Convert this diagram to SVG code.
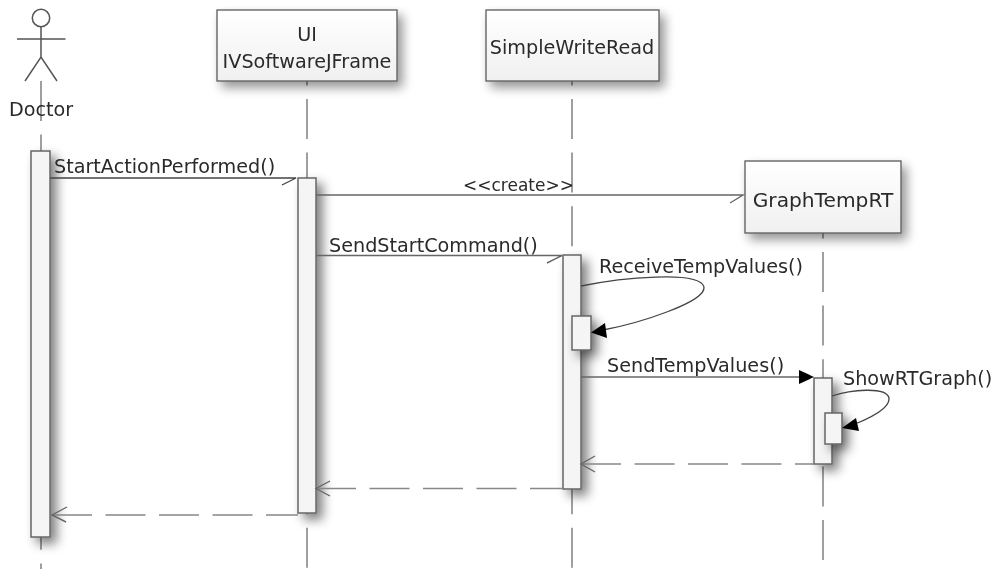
<svg xmlns="http://www.w3.org/2000/svg" width="993" height="569" viewBox="0 0 993 569">
<defs>
<linearGradient id="g" x1="0" y1="0" x2="0" y2="1"><stop offset="0" stop-color="#ffffff"/><stop offset="1" stop-color="#f0f0f0"/></linearGradient>
<filter id="s" filterUnits="userSpaceOnUse" x="0" y="0" width="993" height="569"><feGaussianBlur in="SourceAlpha" stdDeviation="5.500"/><feOffset dx="5" dy="6"/><feComponentTransfer><feFuncA type="linear" slope="0.42"/></feComponentTransfer><feMerge><feMergeNode/><feMergeNode in="SourceGraphic"/></feMerge></filter>
<filter id="sa" filterUnits="userSpaceOnUse" x="0" y="0" width="993" height="569"><feGaussianBlur in="SourceAlpha" stdDeviation="5.500"/><feOffset dx="6" dy="6"/><feComponentTransfer><feFuncA type="linear" slope="0.5"/></feComponentTransfer><feMerge><feMergeNode/><feMergeNode in="SourceGraphic"/></feMerge></filter>
<filter id="soft" filterUnits="userSpaceOnUse" x="0" y="0" width="993" height="569"><feGaussianBlur stdDeviation="0.45"/></filter>
</defs>
<style>
text{font-family:"DejaVu Sans","Liberation Sans",sans-serif;font-size:19.200px;fill:#2a2a2a}
.m{text-anchor:middle}
.box{fill:url(#g);stroke:#5a5a5a;stroke-width:1.3}
.act{fill:#f5f5f5;stroke:#666;stroke-width:1.5}
.life{stroke:#888;stroke-width:1.6;stroke-dasharray:40 13.6;fill:none}
.ln{stroke:#666;stroke-width:1.4;fill:none}
.dark{stroke:#444;stroke-width:1.3;fill:none}
.dash{stroke:#888;stroke-width:1.6;stroke-dasharray:40 13.5;fill:none}
.fig{stroke:#555;stroke-width:1.5;fill:none}
.head{fill:#000;stroke:none}
</style>
<rect width="993" height="569" fill="#fff"/>
<g filter="url(#soft)">
<g id="lifelines">
<line class="life" x1="41" y1="81" x2="41" y2="569"/>
<line class="life" x1="307" y1="45.4" x2="307" y2="569"/>
<line class="life" x1="572" y1="45.4" x2="572" y2="569"/>
<line class="life" x1="823" y1="198.4" x2="823" y2="569"/>
</g>
<g id="doctor">
<circle class="fig" cx="41" cy="18" r="8.7"/>
<path class="fig" d="M41 27V57M17 39H65.500M25 81L41 57L57 81"/>
<text class="m" x="41" y="116">Doctor</text>
</g>
<g id="ui"><rect class="box" filter="url(#s)" x="217" y="10" width="180" height="71"/>
<text class="m" x="307" y="41">UI</text><text class="m" x="307" y="68">IVSoftwareJFrame</text></g>
<g id="simplewriteread"><rect class="box" filter="url(#s)" x="486" y="10" width="173" height="71"/>
<text class="m" x="572" y="54">SimpleWriteRead</text></g>
<g id="graphtemprt"><rect class="box" filter="url(#s)" x="745" y="161" width="156" height="72"/>
<text class="m" x="823" y="207" style="font-size:20.200px">GraphTempRT</text></g>
<g id="activations">
<rect class="act" filter="url(#sa)" x="31" y="151" width="19" height="386"/>
<rect class="act" filter="url(#sa)" x="298" y="178" width="18" height="335"/>
<rect class="act" filter="url(#sa)" x="563" y="255" width="18" height="234"/>
<rect class="act" filter="url(#sa)" x="572" y="316" width="19" height="34"/>
<rect class="act" filter="url(#sa)" x="814" y="378" width="18" height="86"/>
<rect class="act" filter="url(#sa)" x="825" y="413" width="17" height="31"/>
</g>
<g id="connectors">
<path class="dark" d="M50 178H296L282 185"/>
<path class="ln" d="M316 195H743L730 203"/>
<path class="ln" d="M316 255.500H562L547 263"/>
<path class="dark" d="M581 286C620 278 700 270 704 287C706 302 640 323 603 330"/>
<path class="head" d="M591 332.500L605 323L607 338Z"/>
<path class="ln" d="M581 377H802"/>
<path class="head" d="M814 377L799 370V384Z"/>
<path class="dark" d="M832 396C850 390 886 386 889 398C890 408 870 418 855 424"/>
<path class="head" d="M842 428L856 418L859 431Z"/>
<path class="dash" d="M581 464H814"/><path class="ln" d="M595 456L581 464L595 472"/>
<path class="dash" d="M316 488.500H563"/><path class="ln" d="M330 481L316 488.500L330 496"/>
<path class="dash" d="M52 515H298"/><path class="ln" d="M67 507L52 515L66 522"/>
</g>
<g id="labels">
<text x="54" y="173">StartActionPerformed()</text>
<text x="463" y="190.500" style="font-size:17px">&lt;&lt;create&gt;&gt;</text>
<text x="329" y="252">SendStartCommand()</text>
<text x="599" y="273">ReceiveTempValues()</text>
<text x="607" y="372">SendTempValues()</text>
<text x="843" y="385">ShowRTGraph()</text>
</g>
</g>
</svg>
